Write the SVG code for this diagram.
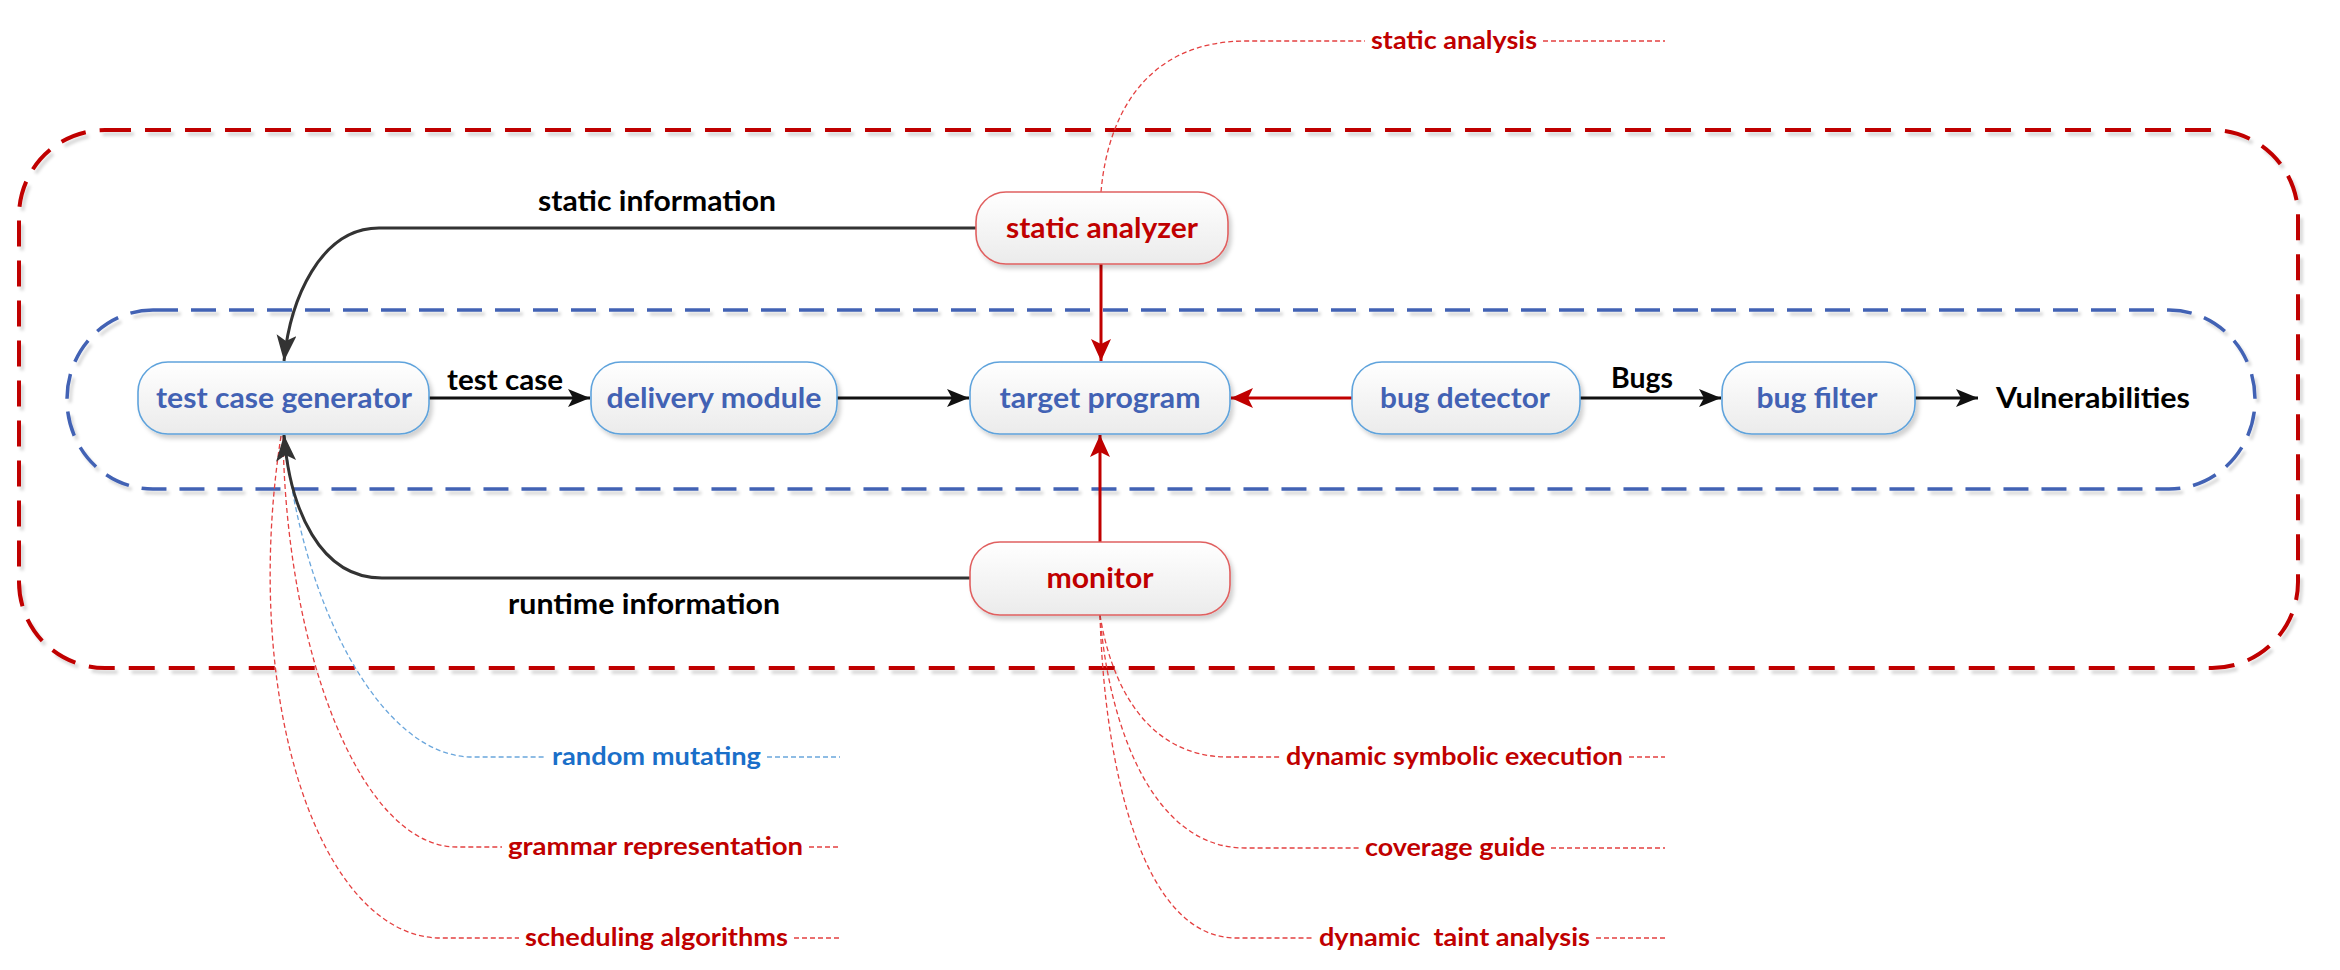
<svg xmlns="http://www.w3.org/2000/svg" width="2340" height="970" viewBox="0 0 2340 970">
<style>
text{font-family:Lato,"Liberation Sans",sans-serif;font-weight:bold}
.nb rect{fill:url(#g);stroke:#5fa3dc;stroke-width:1.6}
.nr rect{fill:url(#g);stroke:#e06060;stroke-width:1.6}
.nb text{fill:#4262b4;font-size:29px;text-anchor:middle}
.nr text{fill:#c00000;font-size:29px;text-anchor:middle}
.lbl{fill:#000;font-size:28px}
.cl{fill:#c00000;font-size:25px}
.clb{fill:#1a6fc9;font-size:25px}
.cr{fill:none;stroke:#e44040;stroke-width:1.3;stroke-dasharray:5 3}
.cb{fill:none;stroke:#6aa6dc;stroke-width:1.3;stroke-dasharray:5 3}
.k{fill:none;stroke:#111;stroke-width:3}
.d{fill:none;stroke:#333;stroke-width:3}
.r{fill:none;stroke:#c00000;stroke-width:3}
</style>
<defs>
<linearGradient id="g" x1="0" y1="0" x2="0" y2="1">
<stop offset="0" stop-color="#ffffff"/>
<stop offset="1" stop-color="#ebebeb"/>
</linearGradient>
<filter id="sh" x="-10%" y="-10%" width="130%" height="140%">
<feDropShadow dx="3" dy="4" stdDeviation="2" flood-color="#000" flood-opacity="0.18"/>
</filter>
<filter id="sh2" x="-5%" y="-5%" width="110%" height="110%">
<feDropShadow dx="3" dy="4" stdDeviation="1.5" flood-color="#000" flood-opacity="0.15"/>
</filter>
<marker id="ak" markerUnits="userSpaceOnUse" markerWidth="24" markerHeight="20" refX="22" refY="9" orient="auto">
<path d="M0,0 L22,9 L0,18 L5,9 z" fill="#111"/>
</marker>
<marker id="ad" markerUnits="userSpaceOnUse" markerWidth="28" markerHeight="22" refX="26" refY="10" orient="auto">
<path d="M0,0 L26,10 L0,20 L6,10 z" fill="#333"/>
</marker>
<marker id="ar" markerUnits="userSpaceOnUse" markerWidth="24" markerHeight="22" refX="22" refY="10" orient="auto">
<path d="M0,0 L22,10 L0,20 L5,10 z" fill="#c00000"/>
</marker>
</defs>
<rect width="2340" height="970" fill="#fff"/>

<g id="containers">
<rect x="19" y="130" width="2279" height="538" rx="86" ry="86" fill="none" stroke="#c00000" stroke-width="4" stroke-dasharray="26 14" filter="url(#sh2)"/>
<rect x="67" y="310" width="2188" height="179" rx="86" ry="89" fill="none" stroke="#4262b4" stroke-width="3.5" stroke-dasharray="25 13" filter="url(#sh2)"/>
</g>

<g id="callouts">
<path class="cr" d="M1101,192 C1108,110 1150,41 1246,41 H1365 M1543,41 H1665"/>
<text class="cl" x="1371" y="49" textLength="166" lengthAdjust="spacingAndGlyphs">static analysis</text>

<path class="cr" d="M1100,615 C1112,690 1150,757 1228,757 H1280 M1629,757 H1665"/>
<text class="cl" x="1286" y="765" textLength="337" lengthAdjust="spacingAndGlyphs">dynamic symbolic execution</text>
<path class="cr" d="M1100,615 C1108,720 1150,848 1245,848 H1359 M1551,848 H1665"/>
<text class="cl" x="1365" y="856" textLength="180" lengthAdjust="spacingAndGlyphs">coverage guide</text>
<path class="cr" d="M1100,615 C1104,760 1140,938 1236,938 H1313 M1596,938 H1665"/>
<text class="cl" x="1319" y="946" textLength="271" lengthAdjust="spacingAndGlyphs" xml:space="preserve">dynamic  taint analysis</text>

<path class="cb" d="M285,436 C300,600 380,757 472,757 H546 M767,757 H840"/>
<text class="clb" x="552" y="765" textLength="209" lengthAdjust="spacingAndGlyphs">random mutating</text>
<path class="cr" d="M283,436 C286,650 360,847 457,847 H502 M809,847 H840"/>
<text class="cl" x="508" y="855" textLength="295" lengthAdjust="spacingAndGlyphs">grammar representation</text>
<path class="cr" d="M281,436 C240,700 320,938 441,938 H519 M794,938 H840"/>
<text class="cl" x="525" y="946" textLength="263" lengthAdjust="spacingAndGlyphs">scheduling algorithms</text>
</g>

<g id="connectors">
<path class="d" d="M976,228 H379 C320,228 290,300 284,361" marker-end="url(#ad)"/>
<path class="d" d="M970,578 H382 C320,578 290,510 284,435" marker-end="url(#ad)"/>
<path class="k" d="M429,398 H590" marker-end="url(#ak)"/>
<path class="k" d="M837,398 H969" marker-end="url(#ak)"/>
<path class="r" d="M1101,264 V361" marker-end="url(#ar)"/>
<path class="r" d="M1100,542 V435" marker-end="url(#ar)"/>
<path class="r" d="M1352,398 H1231" marker-end="url(#ar)"/>
<path class="k" d="M1580,398 H1721" marker-end="url(#ak)"/>
<path class="k" d="M1915,398 H1978" marker-end="url(#ak)"/>
<text class="lbl" x="657" y="211" text-anchor="middle" textLength="238" lengthAdjust="spacingAndGlyphs">static information</text>
<text class="lbl" x="644" y="614" text-anchor="middle" textLength="272" lengthAdjust="spacingAndGlyphs">runtime information</text>
<text class="lbl" x="505" y="390" text-anchor="middle" textLength="116" lengthAdjust="spacingAndGlyphs">test case</text>
<text class="lbl" x="1642" y="388" text-anchor="middle" textLength="62" lengthAdjust="spacingAndGlyphs">Bugs</text>
<text class="lbl" x="1996" y="408" textLength="194" lengthAdjust="spacingAndGlyphs">Vulnerabilities</text>
</g>

<g id="static-analyzer" class="nr">
<rect x="976" y="192" width="252" height="72" rx="30" filter="url(#sh)"/>
<text x="1102" y="238" textLength="192" lengthAdjust="spacingAndGlyphs">static analyzer</text>
</g>
<g id="test-case-generator" class="nb">
<rect x="138" y="362" width="291" height="72" rx="30" filter="url(#sh)"/>
<text x="284" y="408" textLength="256" lengthAdjust="spacingAndGlyphs">test case generator</text>
</g>
<g id="delivery-module" class="nb">
<rect x="591" y="362" width="246" height="72" rx="30" filter="url(#sh)"/>
<text x="714" y="408" textLength="215" lengthAdjust="spacingAndGlyphs">delivery module</text>
</g>
<g id="target-program" class="nb">
<rect x="970" y="362" width="260" height="72" rx="30" filter="url(#sh)"/>
<text x="1100" y="408" textLength="201" lengthAdjust="spacingAndGlyphs">target program</text>
</g>
<g id="bug-detector" class="nb">
<rect x="1352" y="362" width="228" height="72" rx="30" filter="url(#sh)"/>
<text x="1465" y="408" textLength="170" lengthAdjust="spacingAndGlyphs">bug detector</text>
</g>
<g id="bug-filter" class="nb">
<rect x="1722" y="362" width="193" height="72" rx="30" filter="url(#sh)"/>
<text x="1817" y="408" textLength="121" lengthAdjust="spacingAndGlyphs">bug filter</text>
</g>
<g id="monitor" class="nr">
<rect x="970" y="542" width="260" height="73" rx="30" filter="url(#sh)"/>
<text x="1100" y="588" textLength="107" lengthAdjust="spacingAndGlyphs">monitor</text>
</g>
</svg>
